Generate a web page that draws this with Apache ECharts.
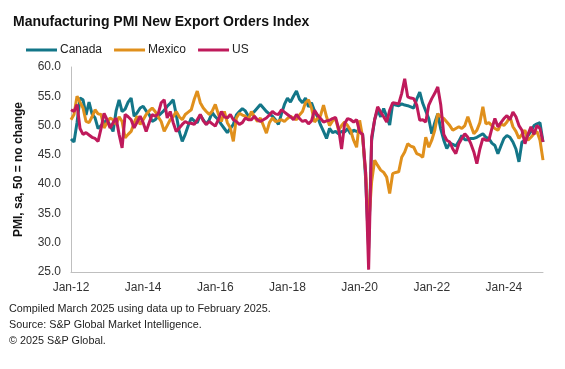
<!DOCTYPE html>
<html>
<head>
<meta charset="utf-8">
<script src="https://cdn.jsdelivr.net/npm/echarts@6/dist/echarts.min.js"></script>
<style>
html,body{margin:0;padding:0;background:#fff;}
#chart{width:565px;height:369px;}
</style>
</head>
<body>
<div id="chart"></div>
<script>
// Monthly observations Jan-2012 .. Feb-2025
var startYear = 2012, startMonth = 0, monthCount = 158;
var monthNames = ['Jan','Feb','Mar','Apr','May','Jun','Jul','Aug','Sep','Oct','Nov','Dec'];
var categories = [];
for (var i = 0; i < monthCount; i++) {
  var yy = startYear + Math.floor((startMonth + i) / 12);
  var mm = (startMonth + i) % 12;
  categories.push(monthNames[mm] + '-' + String(yy).slice(2));
}

var canada = [
  47.7, 47.2, 50.5, 54.7, 54.4, 51.8, 54.0, 52.0, 51.3, 49.5, 50.0, 50.5,
  51.0, 50.0, 49.0, 52.5, 54.4, 52.4, 52.8, 54.0, 54.7, 51.6, 52.2, 53.0,
  53.3, 52.5, 51.9, 50.7, 51.0, 51.6, 52.1, 52.6, 53.3, 53.8, 54.4, 51.9,
  49.0, 47.3, 48.5, 50.0, 51.3, 50.8, 50.5, 51.8, 51.0, 50.2, 51.0, 52.2,
  51.5, 51.0, 50.2, 49.5, 48.8, 49.5, 50.2, 51.8, 52.4, 52.9, 52.5, 51.6,
  52.0, 52.4, 53.0, 53.6, 53.0, 52.4, 52.0, 51.6, 51.0, 50.2, 52.0, 53.6,
  54.7, 54.0, 55.0, 55.9, 54.5, 53.9, 54.7, 53.2, 53.9, 52.5, 51.5, 50.1,
  49.0, 47.8, 49.5, 48.8, 49.0, 48.6, 49.0, 48.9, 49.5, 48.6, 49.2, 49.0,
  49.0, 48.5, 41.0, 29.0, 47.5, 51.0, 52.7, 51.5, 52.9, 51.5, 50.1, 53.7,
  53.5, 53.4, 53.7, 53.5, 53.4, 53.2, 53.0, 54.5, 55.7, 53.8, 52.5, 51.2,
  48.6, 50.5, 52.0, 49.4, 47.5, 46.1, 47.0, 46.8, 46.5, 47.3, 48.3, 47.6,
  47.6, 47.8, 47.8, 48.0, 48.3, 48.6, 48.0, 47.8, 47.0, 46.6, 45.2, 46.5,
  47.8, 48.3, 48.0, 47.2, 46.0, 43.8, 47.2, 47.5, 48.3, 49.0, 50.0, 50.3,
  50.5, 47.2
];

var mexico = [
  51.0, 51.9, 55.0, 54.0, 53.0, 50.7, 50.5, 51.5, 52.7, 52.0, 51.9, 49.6,
  50.5, 51.3, 51.0, 50.2, 51.5, 50.7, 47.9, 48.5, 49.0, 50.5, 51.6, 50.2,
  51.0, 51.9, 52.5, 53.0, 52.4, 51.5, 50.7, 49.0, 50.0, 51.0, 51.5, 52.4,
  51.5, 51.0, 51.9, 52.3, 52.7, 54.5, 55.9, 53.9, 53.0, 52.4, 51.9, 52.5,
  53.6, 52.0, 50.7, 52.4, 50.5, 49.6, 47.3, 51.3, 52.1, 51.8, 51.6, 51.0,
  52.4, 51.5, 50.7, 51.3, 50.0, 48.7, 50.5, 51.3, 50.7, 50.8, 51.0, 50.7,
  51.2, 51.6, 51.3, 51.0, 51.8, 52.4, 53.9, 54.4, 53.0, 50.6, 51.2, 51.7,
  53.5, 51.5, 50.0, 50.8, 51.2, 49.2, 50.0, 50.6, 50.0, 49.2, 47.5, 46.3,
  50.9, 48.0, 42.0, 33.0, 40.4, 44.1, 43.2, 42.4, 42.0, 41.2, 38.4, 41.8,
  42.0, 42.1, 44.6, 45.5, 46.9, 46.5, 46.3, 45.2, 45.0, 44.6, 48.0, 46.3,
  47.5, 49.2, 52.0, 51.5, 51.2, 50.6, 50.0, 49.2, 49.5, 49.8, 49.5, 50.0,
  51.5, 50.0, 48.6, 49.2, 50.5, 53.2, 50.3, 50.5, 50.0, 49.5, 49.2, 50.3,
  50.0, 50.6, 51.5, 49.8, 49.0, 47.8, 48.5, 49.2, 47.5, 48.0, 48.6, 49.0,
  47.5, 44.1
];

var us = [
  52.7, 52.4, 53.6, 49.5, 48.5, 48.8, 48.4, 48.0, 47.8, 47.3, 49.5, 52.1,
  51.0, 49.6, 50.5, 51.3, 48.5, 46.2, 51.9, 51.5, 51.0, 49.6, 50.6, 51.6,
  50.5, 49.0, 50.5, 51.9, 51.6, 52.0, 53.9, 54.4, 51.3, 52.4, 50.5, 49.0,
  49.6, 50.2, 50.7, 50.4, 50.4, 50.2, 51.0, 51.9, 50.8, 50.2, 50.7, 50.3,
  49.9, 51.0, 52.4, 51.5, 51.3, 51.9, 51.0, 50.7, 50.2, 50.5, 51.3, 51.0,
  51.0, 51.6, 51.0, 50.7, 51.0, 51.3, 51.8, 52.4, 52.0, 51.9, 52.7, 52.3,
  51.9, 51.5, 51.0, 51.9, 51.2, 50.7, 50.9, 50.3, 50.8, 52.6, 51.8, 51.2,
  50.6, 50.8, 50.9, 51.2, 51.4, 49.5, 46.0, 50.3, 51.2, 51.0, 50.6, 51.0,
  48.9, 48.5, 42.0, 25.4, 48.0, 51.0, 53.2, 52.3, 51.5, 50.6, 52.6, 53.9,
  53.8, 53.7, 55.5, 58.0, 54.9, 54.7, 54.6, 53.5, 50.9, 51.0, 50.6, 53.5,
  54.6, 55.5, 56.6, 53.5, 48.5, 47.5, 47.2, 46.0, 45.2, 46.9, 47.8, 48.6,
  48.0, 46.9, 45.5, 43.5, 46.0, 47.8, 47.5, 47.5, 49.5, 51.2, 49.8, 50.5,
  51.2, 51.7, 51.0, 52.3, 51.5, 50.0, 49.2, 46.9, 48.5, 49.8, 48.5, 50.0,
  49.5, 47.2
];

var seriesNames = ['Canada', 'Mexico', 'US'];
var seriesColors = ['#137688', '#e0901c', '#bf1a5b'];
var yTicks = [25, 30, 35, 40, 45, 50, 55, 60];
var titleText = 'Manufacturing PMI New Export Orders Index';
var yAxisTitle = 'PMI, sa, 50 = no change';
var footnotes = [
  'Compiled March 2025 using data up to February 2025.',
  'Source: S&P Global Market Intelligence.',
  '\u00A9 2025 S&P Global.'
];

var FONT = '"Liberation Sans", Arial, sans-serif';
var chart = echarts.init(document.getElementById('chart'), null, {renderer: 'canvas'});

var dataSets = [canada, mexico, us];
var series = seriesNames.map(function (n, k) {
  return {
    name: n,
    type: 'line',
    data: dataSets[k],
    showSymbol: false,
    symbol: 'none',
    lineStyle: {width: 3, color: seriesColors[k]},
    itemStyle: {color: seriesColors[k]},
    emphasis: {disabled: true},
    animation: false
  };
});

var graphics = footnotes.map(function (t, k) {
  return {
    type: 'text',
    left: 9,
    top: 304 + k * 16,
    style: {text: t, font: '10.8px ' + FONT, fill: '#222'}
  };
});

chart.setOption({
  animation: false,
  title: {
    text: titleText,
    left: 8,
    top: 10,
    textStyle: {fontFamily: FONT, fontSize: 14, fontWeight: 'bold', color: '#111'}
  },
  legend: {
    data: seriesNames,
    left: 21,
    top: 39,
    icon: 'rect',
    itemWidth: 31,
    itemHeight: 3,
    itemGap: 12,
    textStyle: {fontFamily: FONT, fontSize: 12, color: '#222', padding: [0, 0, 0, -2]}
  },
  grid: {left: 71, right: 22, top: 67, bottom: 97, containLabel: false},
  xAxis: {
    type: 'category',
    data: categories,
    boundaryGap: false,
    axisLine: {show: true, lineStyle: {color: '#bfbfbf', width: 1}},
    axisTick: {show: false},
    axisLabel: {interval: 23, fontFamily: FONT, fontSize: 12, color: '#333', margin: 10},
    splitLine: {show: false}
  },
  yAxis: {
    type: 'value',
    min: yTicks[0],
    max: yTicks[yTicks.length - 1],
    interval: 5,
    name: yAxisTitle,
    nameLocation: 'middle',
    nameRotate: 90,
    nameGap: 46,
    nameTextStyle: {fontFamily: FONT, fontSize: 12, fontWeight: 'bold', color: '#111'},
    axisLine: {show: true, lineStyle: {color: '#bfbfbf', width: 1}},
    axisTick: {show: false},
    axisLabel: {
      fontFamily: FONT, fontSize: 12, color: '#333', margin: 10,
      formatter: function (v) { return v.toFixed(1); }
    },
    splitLine: {show: false}
  },
  graphic: graphics,
  series: series
});
</script>
</body>
</html>
